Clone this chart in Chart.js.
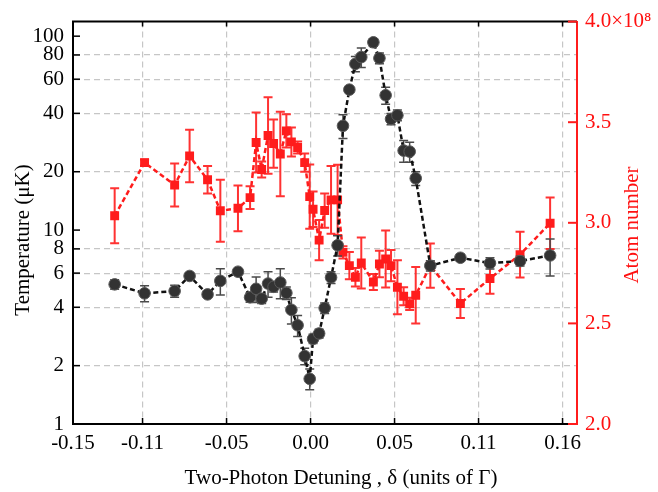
<!DOCTYPE html>
<html>
<head>
<meta charset="utf-8">
<script src="https://cdn.jsdelivr.net/npm/chart.js@4.4.1/dist/chart.umd.min.js"></script>
<style>
  html, body { margin: 0; padding: 0; background: #ffffff; }
  #wrap { width: 658px; height: 492px; }
</style>
</head>
<body>
<div id="wrap"><canvas id="c" width="658" height="492"></canvas></div>
<script>
// ---------------- data ----------------
const detuning = [
  -0.1166, -0.0988, -0.0809, -0.0720, -0.0613, -0.0537, -0.0432, -0.0360, -0.0324, -0.0291,
  -0.0253, -0.0220, -0.0180, -0.0144, -0.0114, -0.0077, -0.0035, -0.0005, 0.0015, 0.0051,
  0.0084, 0.0122, 0.0161, 0.0193, 0.0231, 0.0267, 0.0302, 0.0374, 0.0410, 0.0447,
  0.0479, 0.0517, 0.0554, 0.0590, 0.0626, 0.0713, 0.0892, 0.1068, 0.1247, 0.1426
];
// temperature in microkelvin
const temperature = [
  5.25, 4.72, 4.85, 5.8, 4.66, 5.47, 6.1, 4.5, 4.98, 4.43,
  5.3, 5.1, 5.37, 4.74, 3.88, 3.23, 2.24, 1.71, 2.75, 2.93,
  3.96, 5.7, 8.35, 34.5, 53, 72, 78, 93, 77, 49.6,
  37.4, 39.1, 25.7, 25.4, 18.5, 6.55, 7.2, 6.75, 6.92, 7.4
];
const temperatureErr = [
  0.3, 0.45, 0.35, 0.2, 0.15, 0.85, 0.2, 0.25, 0.75, 0.25,
  0.8, 0.3, 0.95, 0.35, 0.6, 0.4, 0.22, 0.21, 0.15, 0.15,
  0.25, 0.4, 1.0, 4.8, 1.0, 6.5, 9, 4, 5, 5,
  2.5, 2.5, 3.3, 3, 1.5, 0.4, 0.3, 0.45, 0.4, 1.6
];
// atom number in units of 1e8
const atomNumber = [
  3.035, 3.299, 3.188, 3.332, 3.214, 3.060, 3.072, 3.125, 3.399, 3.265,
  3.434, 3.394, 3.342, 3.457, 3.402, 3.374, 3.299, 3.130, 3.067, 2.914,
  3.061, 3.114, 3.114, 2.853, 2.787, 2.729, 2.800, 2.706, 2.795, 2.820,
  2.787, 2.680, 2.635, 2.597, 2.640, 2.787, 2.599, 2.723, 2.842, 2.998
];
const atomNumberErr = [
  0.137, 0.015, 0.107, 0.13, 0.068, 0.154, 0.114, 0.057, 0.149, 0.04,
  0.19, 0.12, 0.21, 0.083, 0.072, 0.03, 0.045, 0.16, 0.088, 0.1,
  0.085, 0.168, 0.175, 0.03, 0.068, 0.046, 0.127, 0.04, 0.066, 0.142,
  0.078, 0.134, 0.045, 0.03, 0.14, 0.11, 0.072, 0.076, 0.114, 0.128
];

// axis ranges and tick labels
const X_MIN = -0.1414, X_MAX = 0.1586;
const xTickValues = [X_MIN, -0.10, -0.05, 0.00, 0.05, 0.10, 0.15];
const xTickLabels = ['-0.15', '-0.11', '-0.05', '0.00', '0.05', '0.11', '0.16'];
const T_MIN = 1, T_MAX = 118.9;
const tempTicks = [1, 2, 4, 6, 8, 10, 20, 40, 60, 80, 100];
const tempTickLabels = ['1', '2', '4', '6', '8', '10', '20', '40', '60', '80', '100'];
const N_MIN = 2.0, N_MAX = 4.0;
const atomTicks = [2.0, 2.5, 3.0, 3.5, 4.0];
const atomTickLabels = ['2.0', '2.5', '3.0', '3.5', '4.0×10⁸'];

const xTitle = 'Two-Photon Detuning , δ (units of Γ)';
const yLeftTitle = 'Temperature (μK)';
const yRightTitle = 'Atom number';

// ---------------- styling ----------------
const FONT = '"Liberation Serif", "Times New Roman", serif';
const RED = 'rgb(255,28,28)';
const RED_TEXT = '#ff1010';
const GRID = '#c6c6c6';

const errorBarPlugin = {
  id: 'errorBars',
  beforeDatasetDraw(chart, args) {
    const ds = chart.data.datasets[args.index];
    if (!ds.errValues) return;
    const ctx = chart.ctx;
    const xs = chart.scales.x;
    const ys = chart.scales[ds.yAxisID];
    ctx.save();
    ctx.strokeStyle = ds.errColor;
    ctx.lineWidth = ds.errWidth;
    ctx.setLineDash([]);
    const cap = ds.errCap;
    ds.data.forEach((p, i) => {
      const e = ds.errValues[i];
      const x = xs.getPixelForValue(p.x);
      const y1 = ys.getPixelForValue(p.y + e);
      const y2 = ys.getPixelForValue(Math.max(p.y - e, 1e-6));
      ctx.beginPath();
      ctx.moveTo(x, y1); ctx.lineTo(x, y2);
      ctx.moveTo(x - cap, y1); ctx.lineTo(x + cap, y1);
      ctx.moveTo(x - cap, y2); ctx.lineTo(x + cap, y2);
      ctx.stroke();
    });
    ctx.restore();
  }
};

const framePlugin = {
  id: 'frame',
  afterDraw(chart) {
    const ctx = chart.ctx;
    const a = chart.chartArea;
    const xs = chart.scales.x, yl = chart.scales.yT, yr = chart.scales.yN;
    ctx.save();
    ctx.setLineDash([]);
    // top border
    ctx.strokeStyle = '#000';
    ctx.lineWidth = 2;
    ctx.beginPath();
    ctx.moveTo(a.left - 1, a.top); ctx.lineTo(a.right, a.top);
    ctx.stroke();
    // x ticks (inward, bottom and top)
    ctx.lineWidth = 1.5;
    xTickValues.forEach(v => {
      const px = xs.getPixelForValue(v);
      ctx.beginPath();
      ctx.moveTo(px, a.bottom); ctx.lineTo(px, a.bottom - 6);
      ctx.moveTo(px, a.top); ctx.lineTo(px, a.top + 5);
      ctx.stroke();
    });
    // left ticks (inward)
    tempTicks.forEach(v => {
      const py = yl.getPixelForValue(v);
      ctx.beginPath();
      ctx.moveTo(a.left, py); ctx.lineTo(a.left + 7, py);
      ctx.stroke();
    });
    // right ticks (inward, red)
    ctx.strokeStyle = RED;
    ctx.lineWidth = 2;
    atomTicks.forEach(v => {
      const py = yr.getPixelForValue(v);
      ctx.beginPath();
      ctx.moveTo(a.right, py); ctx.lineTo(a.right - 9, py);
      ctx.stroke();
    });
    // axis titles
    ctx.font = '21px ' + FONT;
    ctx.textAlign = 'center';
    ctx.textBaseline = 'middle';
    ctx.fillStyle = '#000';
    ctx.fillText(xTitle, 341, 478);
    ctx.save();
    ctx.translate(23, 240);
    ctx.rotate(-Math.PI / 2);
    ctx.fillText(yLeftTitle, 0, 0);
    ctx.restore();
    ctx.save();
    ctx.fillStyle = RED_TEXT;
    ctx.translate(632, 225);
    ctx.rotate(-Math.PI / 2);
    ctx.fillText(yRightTitle, 0, 0);
    ctx.restore();
    ctx.restore();
  }
};

const chart = new Chart(document.getElementById('c'), {
  type: 'line',
  data: {
    datasets: [
      {
        label: 'Temperature',
        data: detuning.map((x, i) => ({ x: x, y: temperature[i] })),
        yAxisID: 'yT',
        borderColor: '#111',
        borderWidth: 2.5,
        borderDash: [5, 3],
        tension: 0,
        fill: false,
        pointStyle: 'circle',
        pointRadius: 5.8,
        pointBackgroundColor: '#333333',
        pointBorderColor: '#5a5a5a',
        pointBorderWidth: 1,
        errValues: temperatureErr,
        errColor: '#4a4a4a',
        errWidth: 1.5,
        errCap: 4.5
      },
      {
        label: 'Atom number',
        data: detuning.map((x, i) => ({ x: x, y: atomNumber[i] })),
        yAxisID: 'yN',
        borderColor: RED,
        borderWidth: 2.5,
        borderDash: [5, 3],
        tension: 0,
        fill: false,
        pointStyle: 'rect',
        pointRadius: 6.3,
        pointBackgroundColor: RED,
        pointBorderColor: RED,
        pointBorderWidth: 0,
        errValues: atomNumberErr,
        errColor: 'rgba(255,28,28,0.9)',
        errWidth: 2,
        errCap: 4.5
      }
    ]
  },
  options: {
    responsive: false,
    devicePixelRatio: 1,
    animation: false,
    layout: { padding: { top: 19, left: 0, right: 0, bottom: 0 } },
    plugins: { legend: { display: false }, tooltip: { enabled: false } },
    scales: {
      x: {
        type: 'linear',
        position: 'bottom',
        min: X_MIN,
        max: X_MAX,
        afterBuildTicks: (s) => { s.ticks = xTickValues.map(v => ({ value: v })); },
        afterFit: (s) => { s.height = 68; },
        ticks: {
          autoSkip: false,
          maxRotation: 0,
          padding: 7,
          color: '#000',
          font: { family: FONT, size: 21 },
          callback: (v, i) => xTickLabels[i]
        },
        grid: {
          drawTicks: false,
          lineWidth: 1.2,
          color: (c) => (c.tick && c.tick.value === X_MIN) ? 'rgba(0,0,0,0)' : GRID
        },
        border: { display: true, color: '#000', width: 2, dash: [6, 4] }
      },
      yT: {
        type: 'logarithmic',
        position: 'left',
        min: T_MIN,
        max: T_MAX,
        afterBuildTicks: (s) => { s.ticks = tempTicks.map(v => ({ value: v })); },
        afterFit: (s) => { s.width = 73; },
        ticks: {
          autoSkip: false,
          padding: 9,
          color: '#000',
          font: { family: FONT, size: 21 },
          callback: (v, i) => tempTickLabels[i]
        },
        grid: {
          drawTicks: false,
          lineWidth: 1.2,
          color: (c) => (c.tick && [1, 10, 100].includes(c.tick.value)) ? 'rgba(0,0,0,0)' : GRID
        },
        border: { display: true, color: '#000', width: 2, dash: [6, 4] }
      },
      yN: {
        type: 'linear',
        position: 'right',
        min: N_MIN,
        max: N_MAX,
        afterBuildTicks: (s) => { s.ticks = atomTicks.map(v => ({ value: v })); },
        afterFit: (s) => { s.width = 81; },
        ticks: {
          autoSkip: false,
          padding: 8,
          color: RED_TEXT,
          font: { family: FONT, size: 21 },
          callback: (v, i) => atomTickLabels[i]
        },
        grid: { display: false, drawTicks: false },
        border: { display: true, color: RED, width: 2 }
      }
    }
  },
  plugins: [errorBarPlugin, framePlugin]
});
</script>
</body>
</html>
